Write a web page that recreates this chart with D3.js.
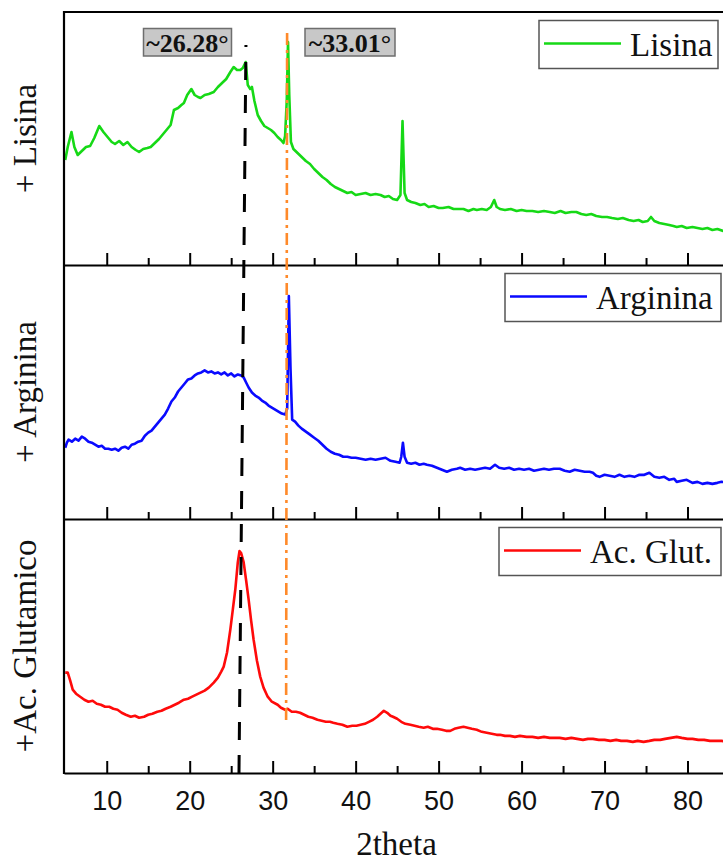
<!DOCTYPE html>
<html><head><meta charset="utf-8">
<script src="https://cdn.jsdelivr.net/npm/d3@7"></script>
<style>html,body{margin:0;padding:0;background:#fff;}svg{display:block;}</style>
</head><body>
<script>
// ---------- DATA ----------
const seriesNames = ["Lisina", "Arginina", "Ac. Glut."];
const axisLabels = ["+ Lisina", "+ Arginina", "+Ac. Glutamico"];
const seriesColors = ["#16d916", "#0a0aff", "#ff0a0a"];
const xTicks = [10, 20, 30, 40, 50, 60, 70, 80];
const xMinorTicks = [5, 15, 25, 35, 45, 55, 65, 75, 85];
const annotations = ["~26.28°", "~33.01°"];
const refLines = [26.78, 25.94, 31.74, 31.62]; // black top/bottom, orange top/bottom (2θ)

const lisinaTheta = [5.0,5.3,5.75,6.1,6.5,7.0,7.5,8.0,8.5,9.1,9.6,10.1,10.6,11.0,11.5,12.0,12.5,13.0,13.5,13.9,14.4,14.9,15.3,15.8,16.3,16.9,17.3,17.7,18.1,18.6,19.0,19.3,19.7,20.2,20.6,21.0,21.3,21.8,22.3,22.9,23.4,23.9,24.4,24.9,25.3,25.7,26.1,26.4,26.75,27.0,27.3,27.5,27.8,28.2,28.6,29.0,29.4,29.8,30.2,30.6,31.0,31.3,31.5,31.7,31.85,32.0,32.2,32.5,33.0,33.5,34.0,34.5,35.0,35.5,36.0,36.5,37.0,37.5,38.0,38.5,39.0,39.5,40.0,40.6,41.2,41.8,42.4,43.0,43.5,44.0,44.5,45.0,45.4,45.65,45.9,46.2,46.7,47.2,47.8,48.3,48.8,49.4,50.0,50.5,51.2,51.8,52.4,53.0,53.6,54.2,54.6,55.2,55.8,56.3,56.7,57.0,57.4,58.0,58.7,59.4,60.0,60.6,61.3,62.0,62.7,63.4,64.0,64.7,65.3,66.0,66.6,67.2,67.8,68.4,69.0,69.7,70.3,70.9,71.6,72.2,72.9,73.5,74.1,74.6,75.2,75.6,76.0,76.6,77.2,77.8,78.3,78.7,79.3,79.9,80.6,81.2,81.8,82.4,83.0,83.6,84.3,85.0];
const lisinaI = [105,118,133,118,110,114,118,119,127,139,133,128,123,121,124,120,123,118,115,113,116,117,118,122,126,132,136,140,155,157,160,162,170,176,170,168,167,170,171,173,178,182,186,193,198,195,195,197,203,180,176,178,164,150,144,139,137,135,132,128,125,122,129,165,223,170,123,116,112,108,104,101,96,92,88,85,81,78,76,74,72,73,70,71,72,70,71,70,68,69,66,65,70,144,72,65,63,62,60,61,58,59,57,57,58,56,56,56,54,56,55,56,55,58,65,58,56,55,56,54,55,54,54,53,54,53,52,54,52,53,53,51,50,51,49,48,48,47,46,47,45,44,45,43,44,48,44,42,41,40,39,38,39,37,38,37,36,37,35,36,34,34];

const argininaTheta = [5.0,5.2,5.4,5.8,6.2,6.6,7.0,7.4,7.8,8.2,8.6,9.0,9.4,9.8,10.2,10.6,11.0,11.4,11.8,12.2,12.6,13.0,13.4,13.8,14.2,14.6,15.0,15.4,15.8,16.2,16.6,17.0,17.4,17.8,18.2,18.6,19.0,19.4,19.8,20.2,20.6,21.0,21.4,21.8,22.2,22.6,23.0,23.4,23.8,24.2,24.6,25.0,25.4,25.8,26.2,26.5,26.8,27.1,27.5,27.9,28.3,28.7,29.1,29.5,29.9,30.3,30.7,31.1,31.5,31.75,31.95,32.15,32.35,32.7,33.1,33.5,34.0,34.5,35.0,35.5,36.0,36.5,37.0,37.5,38.0,38.5,39.0,39.5,40.0,40.6,41.2,41.8,42.4,43.0,43.6,44.2,44.8,45.3,45.5,45.7,45.9,46.2,46.7,47.2,47.7,48.2,48.6,49.2,49.8,50.4,51.0,51.6,52.2,52.6,53.2,53.8,54.4,55.0,55.6,56.2,56.8,57.3,57.9,58.5,59.1,59.7,60.3,60.9,61.5,62.1,62.7,63.3,63.9,64.6,65.2,65.8,66.4,67.0,67.6,68.2,68.6,69.0,69.4,70.0,70.6,71.2,71.8,72.4,73.0,73.6,74.2,74.8,75.4,76.0,76.6,77.2,77.8,78.4,78.7,79.3,79.9,80.6,81.2,81.8,82.4,83.0,83.6,84.1,85.0];
const argininaI = [71,76,79,77,80,78,82,80,77,76,74,72,73,70,70,69,70,68,71,72,70,74,75,77,78,83,86,88,92,96,100,104,110,117,121,127,131,135,139,140,143,145,146,148,146,147,145,146,144,146,143,145,142,144,143,141,136,131,126,123,121,118,116,113,111,109,107,105,104,110,222,150,99,97,93,90,87,84,81,78,74,70,67,65,64,62,62,61,61,60,59,60,59,60,61,58,57,56,62,76,62,56,55,56,54,55,54,53,51,49,47,49,50,51,49,50,49,50,51,50,54,51,50,51,49,50,49,50,48,49,50,49,50,50,48,47,49,48,47,47,46,43,42,44,43,42,44,42,43,42,44,44,46,42,41,42,39,40,37,38,39,36,37,35,36,35,36,37,36];

const glutTheta = [5.0,5.3,5.6,5.9,6.3,6.8,7.3,7.8,8.3,8.8,9.3,9.8,10.3,10.8,11.3,11.8,12.3,12.9,13.4,13.9,14.5,15.0,15.5,16.1,16.6,17.1,17.7,18.2,18.7,19.3,19.8,20.3,20.8,21.3,21.8,22.3,22.9,23.4,23.8,24.1,24.5,24.9,25.2,25.5,25.8,26.0,26.2,26.5,26.8,27.1,27.4,27.7,28.1,28.5,28.9,29.4,29.9,30.6,31.0,31.5,31.8,32.3,32.8,33.3,33.8,34.3,34.8,35.4,35.9,36.4,36.9,37.3,37.8,38.4,39.0,39.6,40.1,40.6,41.1,41.6,42.1,42.6,43.0,43.4,43.8,44.2,44.5,45.0,45.5,46.0,46.6,47.1,47.6,48.2,48.7,49.3,49.8,50.4,50.9,51.4,51.9,52.4,53.0,53.5,54.0,54.6,55.2,55.8,56.4,57.0,57.4,58.0,58.6,59.2,59.8,60.6,61.3,62.0,62.7,63.4,64.0,64.6,65.3,66.0,66.7,67.4,68.0,68.6,69.3,70.0,70.7,71.4,72.0,72.7,73.4,74.0,74.7,75.4,76.0,76.7,77.3,78.0,78.7,79.3,80.0,80.6,81.3,82.0,82.7,83.4,84.1,85.0];
const glutI = [100,100,92,83,79,76,73,71,72,69,68,66,66,64,63,60,58,56,57,55,56,58,59,61,62,64,66,68,70,73,74,76,78,80,82,85,90,95,101,106,120,143,163,183,210,221,219,210,192,173,152,133,112,96,85,76,71,68,65,63,64,61,61,60,58,56,55,53,52,51,51,50,49,48,46,47,47,48,49,51,53,56,59,62,60,57,56,54,51,49,48,47,46,45,46,44,44,43,42,42,44,45,46,45,44,43,41,40,39,38,38,37,37,36,37,36,36,35,36,35,35,35,34,35,34,33,34,34,33,33,32,33,32,32,31,32,31,32,33,33,34,35,36,35,34,34,33,33,32,32,32,31];

const allTheta = [lisinaTheta, argininaTheta, glutTheta];
const allI = [lisinaI, argininaI, glutI];

// ---------- LAYOUT ----------
const W = 723, H = 863;
const left = 64, right = 729;
const edges = [12, 265, 519, 773];
const SERIF = "'Liberation Serif','Times New Roman',serif";
const SANS = "'Liberation Sans',Arial,sans-serif";

const svg = d3.select("body").append("svg").attr("width", W).attr("height", H);
svg.append("defs").append("clipPath").attr("id", "clip")
  .append("rect").attr("x", left).attr("y", edges[0]).attr("width", right - left).attr("height", edges[3] - edges[0]);

const x = d3.scaleLinear().domain([4.85, 85]).range([left, right]);
const legendBoxes = [[539, 718], [505, 721], [499, 721]];

seriesNames.forEach((name, i) => {
  const top = edges[i], bottom = edges[i + 1];
  const y = d3.scaleLinear().domain([0, 253]).range([bottom, top]);
  const pts = allTheta[i].map((t, k) => [t, allI[i][k]]);
  const line = d3.line().x(d => x(d[0])).y(d => y(d[1]));
  svg.append("path").datum(pts).attr("d", line)
    .attr("fill", "none").attr("stroke", seriesColors[i]).attr("stroke-width", 2.6)
    .attr("stroke-linejoin", "round").attr("clip-path", "url(#clip)");

  // bottom axis with inward ticks
  const ax = d3.axisBottom(x).tickValues(xTicks).tickSizeInner(-12).tickSizeOuter(0).tickPadding(18)
    .tickFormat(i === 2 ? d3.format("d") : () => "");
  const g = svg.append("g").attr("transform", `translate(0,${bottom})`).call(ax);
  g.select(".domain").attr("stroke", "#000").attr("stroke-width", 2.2);
  g.selectAll(".tick line").attr("stroke", "#000").attr("stroke-width", 2);
  g.selectAll(".tick text").attr("font-family", SANS).attr("font-size", 27).attr("fill", "#111");
  const axm = d3.axisBottom(x).tickValues(xMinorTicks.filter(v => v > 5)).tickSizeInner(-7).tickSizeOuter(0).tickFormat(() => "");
  const gm = svg.append("g").attr("transform", `translate(0,${bottom})`).call(axm);
  gm.select(".domain").remove();
  gm.selectAll(".tick line").attr("stroke", "#000").attr("stroke-width", 2);

  // y label
  svg.append("text").attr("transform", `translate(36,${(top + bottom) / 2}) rotate(-90)`)
    .attr("text-anchor", "middle").attr("font-family", SERIF).attr("font-size", 33).attr("fill", "#111")
    .text(axisLabels[i]);

  // legend
  const [lx0, lx1] = legendBoxes[i];
  const ly = top + 8.5;
  svg.append("rect").attr("x", lx0).attr("y", ly).attr("width", lx1 - lx0).attr("height", 48)
    .attr("fill", "#fff").attr("stroke", "#555").attr("stroke-width", 1.5);
  svg.append("line").attr("x1", lx0 + 5).attr("x2", lx0 + 82).attr("y1", ly + 23).attr("y2", ly + 23)
    .attr("stroke", seriesColors[i]).attr("stroke-width", 2.4);
  svg.append("text").attr("x", lx0 + 91).attr("y", ly + 35).attr("font-family", SERIF).attr("font-size", 33)
    .attr("fill", "#111").text(name);
});

// frame: left and top
svg.append("line").attr("x1", left).attr("x2", left).attr("y1", edges[0] - 1).attr("y2", edges[3] + 1)
  .attr("stroke", "#000").attr("stroke-width", 2.2);
svg.append("line").attr("x1", left - 1).attr("x2", W).attr("y1", edges[0]).attr("y2", edges[0])
  .attr("stroke", "#000").attr("stroke-width", 2.2);

// reference lines
svg.append("line").attr("x1", x(refLines[0])).attr("y1", 45).attr("x2", x(refLines[1])).attr("y2", 773)
  .attr("stroke", "#000").attr("stroke-width", 3).attr("stroke-dasharray", "18,15").attr("stroke-dashoffset", 16);
svg.append("line").attr("x1", x(refLines[2])).attr("y1", 33).attr("x2", x(refLines[3])).attr("y2", 720)
  .attr("stroke", "#ff8a2a").attr("stroke-width", 2.6).attr("stroke-dasharray", "12,5,3,5");

// annotation boxes
const annBoxes = [[143.5, 88], [305, 90]];
annotations.forEach((t, i) => {
  const [bx, bw] = annBoxes[i];
  svg.append("rect").attr("x", bx).attr("y", 28.5).attr("width", bw).attr("height", 27.5)
    .attr("fill", "#c8c8c8").attr("stroke", "#6e6e6e").attr("stroke-width", 1.5);
  svg.append("text").attr("x", bx + bw / 2).attr("y", 51.5).attr("text-anchor", "middle")
    .attr("font-family", SERIF).attr("font-weight", "bold").attr("font-size", 26).attr("fill", "#111").text(t);
});

// x axis title
svg.append("text").attr("x", (left + right) / 2).attr("y", 855).attr("text-anchor", "middle")
  .attr("font-family", SERIF).attr("font-size", 33).attr("fill", "#111").text("2theta");
</script>
</body></html>
